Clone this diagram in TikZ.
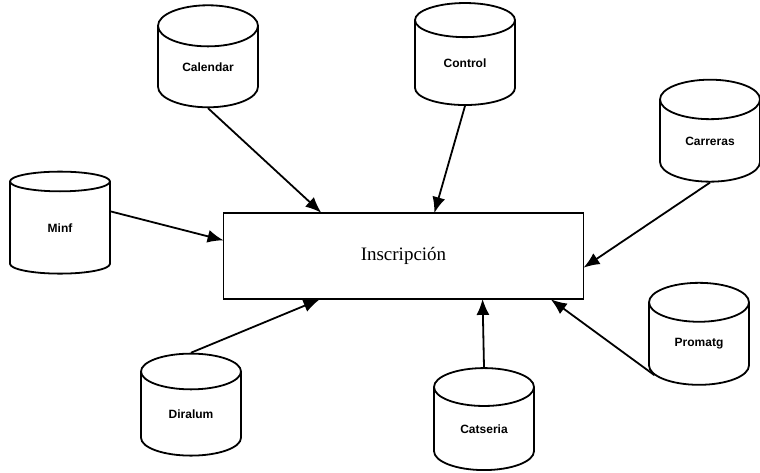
\documentclass[tikz,border=0pt]{standalone}
\usepackage{fontspec}
\setmainfont{Liberation Serif}
\newfontfamily\labelfont{Liberation Sans}
\usetikzlibrary{shapes.geometric,arrows.meta}
\tikzset{
  base/.style={draw,line width=0.9pt,fill=white},
  cyl/.style={base,cylinder,shape border rotate=90,aspect=0.8,
    minimum width=50pt,minimum height=51pt,inner sep=0pt,
    font=\labelfont\bfseries\fontsize{6}{7}\selectfont},
  proc/.style={base,rectangle,minimum width=180pt,minimum height=43pt,
    font=\fontsize{9.5}{11}\selectfont}
}
\begin{document}
\begin{tikzpicture}[x=0.5pt,y=-0.5pt]
      \useasboundingbox (0,0) rectangle (760,472);
      \draw
        (403.5,256) node[proc] (ins){Inscripción}
        (208,67) node[cyl] (cal){Calendar}
        (465,63) node[cyl] (ctl){Control}
        (710,141) node[cyl] (car){Carreras}
        (60,228) node[cyl] (minf){Minf}
        (191,414) node[cyl] (dir){Diralum}
        (484,429) node[cyl] (cat){Catseria}
        (699,344) node[cyl] (pro){Promatg};
      \path
        (ins.north west) ++(98,0) coordinate (t1)
        (ins.north west) ++(212,0) coordinate (t2)
        (ins.north east) ++(0,55) coordinate (r1)
        (ins.north west) ++(0,28) coordinate (l1)
        (ins.south west) ++(96,0) coordinate (b1)
        (ins.south west) ++(260,0) coordinate (b2)
        (ins.south west) ++(329,0) coordinate (b3);
      \begin{scope}[-{Latex[length=8pt,width=6.5pt]},line width=0.9pt,shorten >=-0.5pt]
        \draw (cal.south) to (t1);
        \draw (ctl.south) to (t2);
        \draw (car.south) to (r1);
        \draw (minf.18) to (l1);
        \draw (dir.north) to (b1);
        \draw (cat.north) to (b2);
        \draw (pro.215) to (b3);
      \end{scope}
    \end{tikzpicture}
\end{document}
